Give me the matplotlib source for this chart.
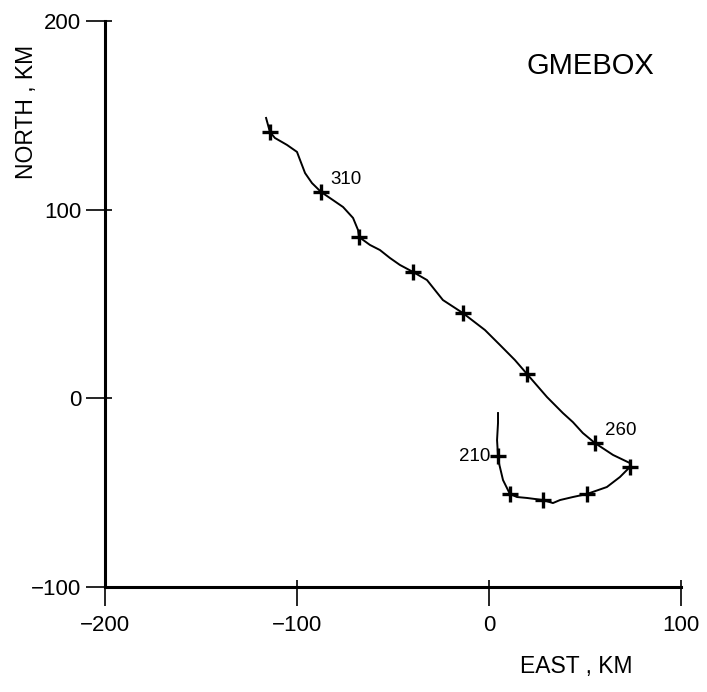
import matplotlib
matplotlib.use("Agg")
import matplotlib.pyplot as plt

plt.rcParams['font.family'] = ['Liberation Sans', 'DejaVu Sans']

# track path (east, north in km), from 210 end to 320 end
path_east = [4.7, 4.7, 4.2, 4.7, 5.2, 7.3, 10.9, 14.6, 19.8, 28.1, 33.3, 37.0, 43.7, 51.0,
             61.4, 68.2, 73.4, 73.4, 64.6, 55.2, 48.9, 43.7, 38.5, 30.2, 19.8, 13.5, 5.7,
             -2.1, -13.6, -24.0, -32.3, -39.6, -46.4, -51.6, -56.8, -62.0, -67.7, -68.2,
             -70.8, -76.0, -81.3, -87.5, -92.2, -95.8, -98.4, -100.0, -105.2, -111.5,
             -114.1, -116.1]
path_north = [-7.8, -13.1, -22.1, -30.6, -34.3, -43.3, -50.7, -52.3, -52.8, -53.9, -55.5,
              -53.9, -52.3, -50.7, -47.0, -41.7, -36.4, -34.3, -30.0, -23.7, -18.4, -12.6,
              -7.8, 0.7, 12.9, 20.3, 28.3, 36.2, 45.2, 52.1, 62.7, 67.0, 70.7, 74.4, 78.6,
              81.3, 85.5, 89.2, 95.6, 101.4, 105.1, 109.4, 114.1, 119.4, 126.3, 130.6,
              134.3, 138.0, 141.2, 148.6]

# marks every 10 time units
mark_time = [210, 220, 230, 240, 250, 260, 270, 280, 290, 300, 310, 320]
mark_east = [4.7, 10.9, 28.1, 51.0, 73.4, 55.2, 19.8, -13.6, -39.6, -67.7, -87.5, -114.1]
mark_north = [-30.6, -50.7, -53.9, -50.7, -36.4, -23.7, 12.9, 45.2, 67.0, 85.5, 109.4, 141.2]
labelled = [210, 260, 310]

x_ticks = [-200, -100, 0, 100]
y_ticks = [-100, 0, 100, 200]

fig = plt.figure(figsize=(7.07, 6.92), dpi=100)
ax = fig.add_axes([0.1485, 0.1517, 0.8147, 0.818])

ax.plot(path_east, path_north, color='black', lw=1.4)
ax.plot(mark_east, mark_north, ls='none', marker='+', ms=11, mew=2.4, color='black')

for t, e, n in zip(mark_time, mark_east, mark_north):
    if t not in labelled:
        continue
    if t == 210:
        ax.text(e - 4, n, str(t), ha='right', va='center', fontsize=13.5)
    else:
        ax.text(e + 5, n + 2, str(t), ha='left', va='bottom', fontsize=13.5)

ax.text(52.6, 176, 'GMEBOX', ha='center', va='center', fontsize=21)

ax.set_xlim(-200, 100)
ax.set_ylim(-100, 200)
ax.set_xticks(x_ticks)
ax.set_yticks(y_ticks)
# short inward stubs at the same places as the outward ticks
ax.set_xticks(x_ticks, minor=True)
ax.set_yticks(y_ticks, minor=True)
ax.xaxis.remove_overlapping_locs = False
ax.yaxis.remove_overlapping_locs = False
ax.tick_params(which='major', direction='out', length=14, width=1.2, labelsize=16)
ax.tick_params(axis='x', which='major', pad=6)
ax.tick_params(axis='y', which='major', pad=3)
ax.tick_params(which='minor', direction='in', length=5, width=1.2)
for s in ['top', 'right']:
    ax.spines[s].set_visible(False)
for s in ['left', 'bottom']:
    ax.spines[s].set_linewidth(2.2)

ax.set_xlabel('EAST , KM', fontsize=16.5, va='center')
ax.xaxis.set_label_coords(0.819, -0.141)
ax.set_ylabel('NORTH , KM', fontsize=16.5, va='center')
ax.yaxis.set_label_coords(-0.137, 0.839)

fig.savefig('out.png', dpi=100)
